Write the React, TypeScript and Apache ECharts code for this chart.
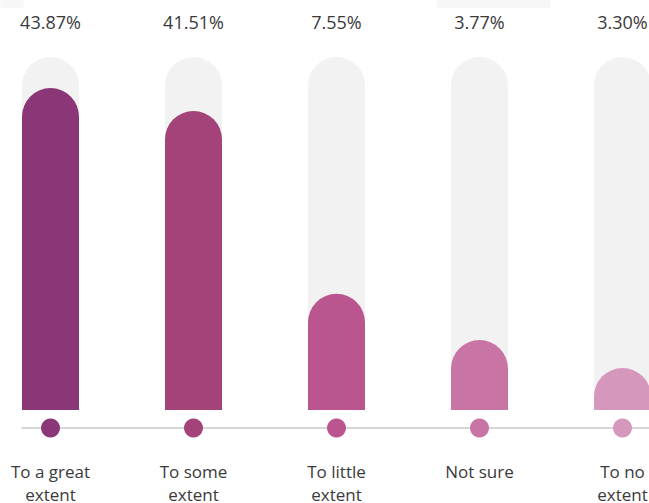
import React, { useEffect, useRef } from "react";
import * as echarts from "echarts";

const categories = ["To a great\nextent", "To some\nextent", "To little\nextent", "Not sure", "To no\nextent"];
const percentLabels = ["43.87%", "41.51%", "7.55%", "3.77%", "3.30%"];
// bar fill level relative to the grey track (track = 100)
const barLevels = [91.2, 84.7, 32.9, 19.8, 11.9];
const trackLevels = [100, 100, 100, 100, 100];
const dotLevels = [0.5, 0.5, 0.5, 0.5, 0.5];
const colors = ["#8B3777", "#A3437A", "#BA5590", "#C875A5", "#D697BD"];

const FONT = "'Open Sans', 'Noto Sans', sans-serif";
const OFFSET = 21.5; // chart canvas starts left of the visible frame

export default function App() {
  const ref = useRef<HTMLDivElement>(null);
  useEffect(() => {
    if (!ref.current) return;
    const chart = echarts.init(ref.current, null, { renderer: "svg" });
    const gridPos = { left: 0, right: 0, outerBoundsMode: "none", containLabel: false };
    chart.setOption({
      animation: false,
      backgroundColor: "#ffffff",
      textStyle: { fontFamily: FONT },
      grid: [
        { ...gridPos, top: 57, bottom: 93 },
        { ...gridPos, top: 418, height: 20 },
      ],
      xAxis: [
        {
          type: "category",
          gridIndex: 0,
          data: categories,
          axisLine: { show: false },
          axisTick: { show: false },
          axisLabel: {
            margin: 50,
            fontSize: 17,
            lineHeight: 23,
            color: "#3a3a3a",
            fontFamily: FONT,
            interval: 0,
          },
        },
        {
          type: "category",
          gridIndex: 1,
          data: categories,
          show: false,
        },
      ],
      yAxis: [
        { type: "value", gridIndex: 0, min: 0, max: 100, show: false },
        { type: "value", gridIndex: 1, min: 0, max: 1, show: false },
      ],
      graphic: [
        { type: "rect", shape: { x: OFFSET, y: 0, width: 23, height: 8 }, style: { fill: "#f7f7f7" }, z: 0 },
        { type: "rect", shape: { x: 436 + OFFSET, y: 0, width: 114, height: 8 }, style: { fill: "#f7f7f7" }, z: 0 },
        {
          type: "line",
          shape: { x1: 21 + OFFSET, y1: 428, x2: 651 + OFFSET, y2: 428 },
          style: { stroke: "#d6d6d6", lineWidth: 2 },
          z: 0,
        },
      ],
      series: [
        {
          type: "bar",
          xAxisIndex: 0,
          yAxisIndex: 0,
          data: trackLevels,
          barWidth: 57,
          itemStyle: { color: "#F2F2F2", borderRadius: [28.5, 28.5, 0, 0] },
          label: {
            show: true,
            position: "top",
            distance: 26,
            fontSize: 18,
            color: "#3a3a3a",
            fontFamily: FONT,
            formatter: (p: any) => percentLabels[p.dataIndex],
          },
          silent: true,
        },
        {
          type: "bar",
          xAxisIndex: 0,
          yAxisIndex: 0,
          barGap: "-100%",
          barWidth: 57,
          data: barLevels.map((v, i) => ({ value: v, itemStyle: { color: colors[i] } })),
          itemStyle: { borderRadius: [28.5, 28.5, 0, 0] },
        },
        {
          type: "scatter",
          xAxisIndex: 1,
          yAxisIndex: 1,
          symbolSize: 19,
          data: dotLevels.map((v, i) => ({ value: v, itemStyle: { color: colors[i], opacity: 1 } })),
          itemStyle: { opacity: 1 },
          z: 5,
        },
      ],
    });
    return () => chart.dispose();
  }, []);
  return (
    <div
      style={{
        position: "absolute",
        left: 0,
        top: 0,
        width: 649,
        height: 503,
        overflow: "hidden",
        background: "#ffffff",
      }}
    >
      <div
        ref={ref}
        style={{ position: "absolute", left: -OFFSET, top: 0, width: 715, height: 503 }}
      />
    </div>
  );
}
